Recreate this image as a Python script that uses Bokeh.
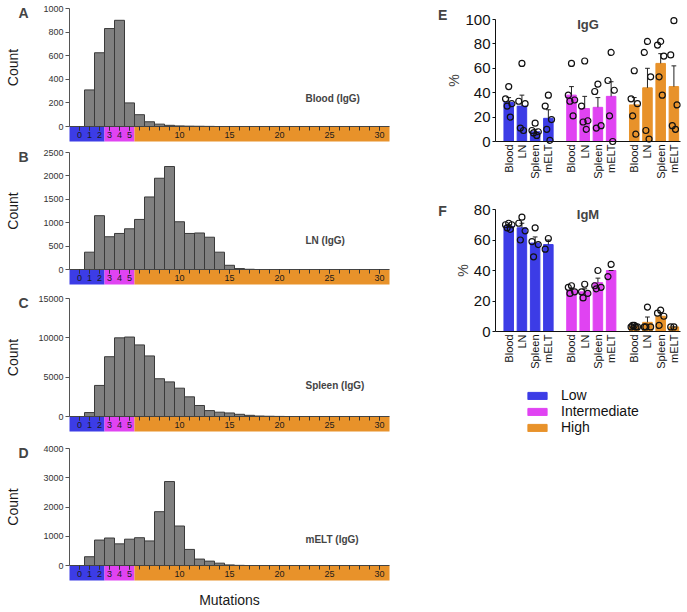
import math
from bokeh.plotting import figure
from bokeh.models import (FixedTicker, LinearAxis, Range1d, Label, Legend,
                          LegendItem)
from bokeh.layouts import row, column
from bokeh.embed import file_html
from bokeh.resources import INLINE

FONT = "Liberation Sans"
BLUE = "#3c3ce6"
MAGENTA = "#e043f2"
ORANGE = "#e8922a"
BAND_COLORS = [BLUE, MAGENTA, ORANGE]

# ---------------- data ----------------
# histogram counts per number of mutations (bin 0, 1, 2, ...)
blood_igg = [0, 310, 625, 830, 900, 200, 100, 40, 20, 10, 5, 3, 2, 1]
ln_igg = [0, 370, 1150, 700, 770, 870, 1070, 1550, 1950, 2200, 1020, 770, 780,
          690, 370, 90, 20, 5]
spleen_igg = [0, 500, 3950, 7600, 10000, 10100, 9100, 7700, 4800, 4400, 3600,
              2500, 1400, 750, 550, 450, 280, 150, 60, 30, 10]
melt_igg = [0, 300, 870, 940, 740, 900, 950, 840, 1840, 2870, 1350, 550, 220,
            150, 80, 20, 5]

hist_x_ticks = [0, 1, 2, 3, 4, 5, 10, 15, 20, 25, 30]
# mutation classes: Low 0-2, Intermediate 3-5, High 6+
class_names = ["Low", "Intermediate", "High"]
class_first_mut = [0, 3, 6]

tissues = ["Blood", "LN", "Spleen", "mELT"]

# panel E (IgG), % per tissue, grouped by class (Low, Intermediate, High)
igg_mean = [32, 29, 8, 19, 38, 27, 28, 37, 30, 44, 64, 45]
igg_sem = [4, 9, 2, 7, 7, 10, 8, 12, 6, 16, 8, 17]
igg_points = [
    [45, 35, 31, 29, 20], [64, 33, 31, 11, 9], [15, 9, 8, 7, 5], [38, 29, 18, 10, 1],
    [64, 38, 34, 33, 21], [66, 29, 17, 16, 10], [47, 41, 13, 11], [73, 50, 42, 21, 0],
    [58, 35, 31, 21, 6], [82, 73, 53, 9, 2], [82, 79, 70, 53, 38], [99, 71, 30, 13, 10],
]

# panel F (IgM)
igm_mean = [69, 68, 58, 57, 27, 26, 32, 40, 3.5, 6, 10, 3]
igm_sem = [1, 3, 4, 3, 1.5, 2, 3, 0, 0.5, 3.5, 2.3, 0]
igm_points = [
    [71, 70, 70, 68, 67], [75, 71, 66, 60], [68, 59, 57, 49], [61, 54],
    [30, 29, 26, 25], [31, 26, 25, 22], [40, 30, 29, 28], [44, 36],
    [4, 3, 3, 4, 3], [16, 3, 3, 3], [14, 12, 10, 4], [3, 3],
]

# ---------------- histogram panels ----------------
HIST_W = 398
AX_LEFT_PX = 69          # pixel position of x = -1 (the y axis)
PX_PER_MUT = 10
X_LO, X_HI = -1, 31
BAND_PX = 15


def hist_panel(counts, ymax, ystep, letter, tag, tag_frac, height, pad_top,
               data_px, label_standoff, xlabel=None):
    below_px = height - pad_top - data_px
    upp = ymax / data_px                       # data units per pixel
    x_start = X_LO - AX_LEFT_PX / PX_PER_MUT
    x_end = X_LO + (HIST_W - AX_LEFT_PX) / PX_PER_MUT
    p = figure(width=HIST_W, height=height, min_border=0,
               x_range=Range1d(x_start, x_end),
               y_range=Range1d(-below_px * upp, ymax + pad_top * upp),
               x_axis_type=None, y_axis_type=None,
               output_backend="svg", toolbar_location=None)
    p.outline_line_color = None
    p.grid.visible = False

    # coloured class band below the axis
    band_bottom = -BAND_PX * upp
    lefts = [X_LO] + [m - 0.5 for m in class_first_mut[1:]]
    rights = [m - 0.5 for m in class_first_mut[1:]] + [X_HI]
    p.quad(left=lefts, right=rights, bottom=band_bottom, top=0,
           fill_color=BAND_COLORS, line_color=None)

    bins = list(range(len(counts)))
    p.vbar(x=bins, top=counts, bottom=0, width=1, fill_color="#808080",
           line_color="#3a3a3a", line_width=1)

    xa = LinearAxis(fixed_location=0)
    xa.bounds = (X_LO, X_HI)
    xa.ticker = FixedTicker(ticks=hist_x_ticks, minor_ticks=list(range(0, 31)))
    xa.major_tick_in = 0
    xa.major_tick_out = 4
    xa.minor_tick_in = 0
    xa.minor_tick_out = 4
    xa.axis_line_color = "#444444"
    xa.major_tick_line_color = "#333333"
    xa.minor_tick_line_color = "#333333"
    xa.major_label_standoff = 1
    xa.major_label_text_font = FONT
    xa.major_label_text_font_size = "9px"
    xa.major_label_text_color = "#1a1a1a"
    if xlabel:
        xa.axis_label = xlabel
        xa.axis_label_text_font = FONT
        xa.axis_label_text_font_size = "14px"
        xa.axis_label_text_font_style = "normal"
        xa.axis_label_text_color = "#1a1a1a"
        xa.axis_label_standoff = 12
    p.add_layout(xa, "below")

    ya = LinearAxis(fixed_location=X_LO)
    ya.ticker = FixedTicker(ticks=list(range(0, ymax + 1, ystep)))
    ya.bounds = (0, ymax)
    ya.axis_line_color = "#555555"
    ya.major_tick_line_color = "#555555"
    ya.major_tick_in = 0
    ya.major_tick_out = 4
    ya.minor_tick_line_color = None
    ya.major_label_standoff = 2
    ya.major_label_text_font = FONT
    ya.major_label_text_font_size = "9px"
    ya.major_label_text_color = "#333333"
    ya.axis_label = "Count"
    ya.axis_label_text_font = FONT
    ya.axis_label_text_font_size = "14px"
    ya.axis_label_text_font_style = "normal"
    ya.axis_label_text_color = "#1a1a1a"
    ya.axis_label_standoff = label_standoff
    p.add_layout(ya, "left")

    p.add_layout(Label(x=-5.6, y=ymax * 0.96, text=letter, text_font=FONT,
                       text_font_size="14px", text_font_style="bold",
                       text_align="center", text_baseline="middle"))
    p.add_layout(Label(x=22.6, y=ymax * tag_frac, text=tag, text_font=FONT,
                       text_font_size="10px", text_font_style="bold",
                       text_align="left", text_baseline="middle"))
    return p


pA = hist_panel(blood_igg, 1000, 200, "A", "Blood (IgG)", 0.24, 145, 8, 118, 19)
pB = hist_panel(ln_igg, 2500, 500, "B", "LN (IgG)", 0.25, 145, 7, 117, 19)
pC = hist_panel(spleen_igg, 15000, 5000, "C", "Spleen (IgG)", 0.26, 150, 8, 118, 14)
pD = hist_panel(melt_igg, 4000, 1000, "D", "mELT (IgG)", 0.22, 172, 8, 117, 19,
                xlabel="Mutations")

# ---------------- percentage panels ----------------
PCT_W = 289
PCT_AX_PX = 97           # y axis pixel position inside the figure
PCT_X_LO, PCT_X_HI = -1, 13
PCT_AX_END_PX = 282
GROUP_STEP = 4.75
JITTER = [0, -0.24, 0.24, -0.12, 0.12]


def pct_panel(means, sems, points, ymax, letter, title, height, pad_top,
              data_px, with_legend=False):
    ppu = (PCT_AX_END_PX - PCT_AX_PX) / (PCT_X_HI - PCT_X_LO)
    upp_y = ymax / data_px
    below_px = height - pad_top - data_px
    p = figure(width=PCT_W, height=height, min_border=0,
               x_range=Range1d(PCT_X_LO - PCT_AX_PX / ppu,
                               PCT_X_HI + (PCT_W - PCT_AX_END_PX) / ppu),
               y_range=Range1d(-below_px * upp_y, ymax + pad_top * upp_y),
               x_axis_type=None, y_axis_type=None,
               output_backend="svg", toolbar_location=None)
    p.outline_line_color = None
    p.grid.visible = False

    positions = []
    labels = {}
    renderers = []
    for g, color in enumerate(BAND_COLORS):
        xs = [g * GROUP_STEP + i for i in range(len(tissues))]
        idx = [g * len(tissues) + i for i in range(len(tissues))]
        r = p.vbar(x=xs, top=[means[k] for k in idx], bottom=0, width=0.72,
                   fill_color=color, line_color=color)
        renderers.append(r)
        tops = [means[k] + sems[k] for k in idx]
        p.segment(x0=xs, y0=[means[k] for k in idx], x1=xs, y1=tops,
                  line_color="#222222", line_width=1)
        p.segment(x0=[x - 0.18 for x in xs], y0=tops,
                  x1=[x + 0.18 for x in xs], y1=tops,
                  line_color="#222222", line_width=1)
        for x, k in zip(xs, idx):
            pts = points[k]
            p.scatter(x=[x + JITTER[j % len(JITTER)] for j in range(len(pts))],
                      y=pts, size=6, fill_color=None, line_color="#111111",
                      line_width=1.2)
        for x, t in zip(xs, tissues):
            positions.append(x)
            labels[x] = t

    xa = LinearAxis(fixed_location=0)
    xa.bounds = (PCT_X_LO, PCT_X_HI)
    xa.ticker = FixedTicker(ticks=positions)
    xa.major_label_overrides = labels
    xa.major_label_orientation = math.pi / 2
    xa.major_tick_out = 0
    xa.major_tick_in = 0
    xa.minor_tick_line_color = None
    xa.axis_line_color = "#111111"
    xa.major_label_standoff = 3
    xa.major_label_text_font = FONT
    xa.major_label_text_font_size = "11px"
    xa.major_label_text_color = "#111111"
    p.add_layout(xa, "below")

    ya = LinearAxis(fixed_location=PCT_X_LO)
    ya.bounds = (0, ymax)
    ya.ticker = FixedTicker(ticks=list(range(0, ymax + 1, 20)))
    ya.axis_line_color = "#111111"
    ya.major_tick_line_color = "#111111"
    ya.major_tick_in = 0
    ya.major_tick_out = 3
    ya.minor_tick_line_color = None
    ya.major_label_standoff = 2
    ya.major_label_text_font = FONT
    ya.major_label_text_font_size = "15px"
    ya.major_label_text_color = "#111111"
    ya.axis_label = "%"
    ya.axis_label_text_font = FONT
    ya.axis_label_text_font_size = "14px"
    ya.axis_label_text_font_style = "normal"
    ya.axis_label_standoff = 0
    p.add_layout(ya, "left")

    p.add_layout(Label(x=-5.0, y=ymax + 4 * upp_y * 1.0 if False else ymax * 1.0 + (ymax * 0.04 if ymax == 100 else -ymax * 0.01),
                       text=letter, text_font=FONT, text_font_size="14px",
                       text_font_style="bold", text_align="center",
                       text_baseline="middle"))
    p.add_layout(Label(x=6.0, y=ymax * 0.963, text=title, text_font=FONT,
                       text_font_size="13px", text_font_style="bold",
                       text_align="center", text_baseline="middle"))

    if with_legend:
        legend = Legend(items=[LegendItem(label=n, renderers=[r])
                               for n, r in zip(class_names, renderers)],
                        location=(127, 177), orientation="vertical",
                        glyph_width=24, glyph_height=9, label_standoff=12,
                        label_height=16, spacing=0, padding=0, margin=0,
                        border_line_color=None, background_fill_alpha=0,
                        label_text_font=FONT, label_text_font_size="14px",
                        label_text_color="#111111")
        p.add_layout(legend, "center")
    return p


pE = pct_panel(igg_mean, igg_sem, igg_points, 100, "E", "IgG", 195, 19, 122)
pF = pct_panel(igm_mean, igm_sem, igm_points, 80, "F", "IgM", 417, 14, 122,
               with_legend=True)

layout = row(column(pA, pB, pC, pD), column(pE, pF))

with open("out.html", "w") as f:
    f.write(file_html(layout, INLINE))
